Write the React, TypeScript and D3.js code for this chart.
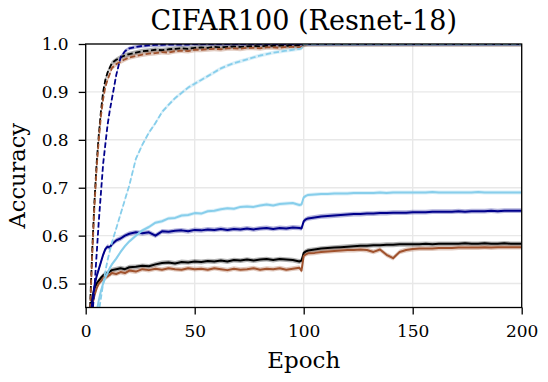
import React, { useEffect, useRef } from "react";
import * as d3 from "d3";

const epochs = [
  1, 2, 3, 4, 5, 6, 7, 8, 9, 10, 11, 12, 14, 16, 18, 20,
  23, 26, 29, 32, 35, 38, 41, 44, 47, 50, 53, 56, 59, 62, 65, 68, 71, 74, 77, 80, 83, 86, 89, 92, 95, 98,
  99, 100, 101,
  102, 105, 108, 111, 114, 117, 120, 123, 126, 129, 132, 135, 138, 141, 144, 147, 150, 153, 156, 159,
  162, 165, 168, 171, 174, 177, 180, 183, 186, 189, 192, 195, 198, 200,
];

const xTicks = [0, 50, 100, 150, 200];
const yTicks = [0.5, 0.6, 0.7, 0.8, 0.9, 1.0];

// Train accuracy (dashed)
const blackTrain = [
  0.35, 0.45, 0.57, 0.67, 0.75, 0.81, 0.86, 0.9, 0.925, 0.94, 0.95, 0.96, 0.967, 0.972, 0.976, 0.979,
  0.982, 0.985, 0.986, 0.988, 0.987, 0.989, 0.99, 0.991, 0.99, 0.992, 0.993, 0.992, 0.994, 0.993, 0.994, 0.995, 0.994, 0.995, 0.996, 0.995, 0.996, 0.996, 0.997, 0.996, 0.997, 0.997,
  0.997, 0.999, 1.0,
  1, 1, 1, 1, 1, 1, 1, 1, 1, 1, 1, 1, 1, 1, 1, 1, 1, 1, 1, 1, 1, 1, 1, 1, 1, 1, 1, 1, 1, 1, 1, 1, 1, 1,
];
const brownTrain = [
  0.33, 0.44, 0.56, 0.66, 0.74, 0.8, 0.85, 0.885, 0.91, 0.925, 0.937, 0.95, 0.958, 0.963, 0.968, 0.972,
  0.975, 0.978, 0.98, 0.981, 0.983, 0.982, 0.985, 0.986, 0.985, 0.988, 0.988, 0.989, 0.99, 0.989, 0.991, 0.991, 0.99, 0.992, 0.992, 0.991, 0.993, 0.993, 0.992, 0.994, 0.994, 0.993,
  0.994, 0.998, 0.999,
  1, 1, 1, 1, 1, 1, 1, 1, 1, 1, 1, 1, 1, 1, 1, 1, 1, 1, 1, 1, 1, 1, 1, 1, 1, 1, 1, 1, 1, 1, 1, 1, 1, 1,
];
const navyTrain = [
  0.2, 0.33, 0.43, 0.49, 0.56, 0.63, 0.69, 0.75, 0.79, 0.83, 0.86, 0.885, 0.935, 0.972, 0.985, 0.991,
  0.994, 0.996, 0.997, 0.998, 0.998, 0.999, 0.999, 0.999, 0.999, 1, 1, 1, 1, 1, 1, 1, 1, 1, 1, 1, 1, 1, 1, 1, 1, 1,
  1, 1, 1,
  1, 1, 1, 1, 1, 1, 1, 1, 1, 1, 1, 1, 1, 1, 1, 1, 1, 1, 1, 1, 1, 1, 1, 1, 1, 1, 1, 1, 1, 1, 1, 1, 1, 1,
];
const lightTrain = [
  0.1, 0.2, 0.28, 0.35, 0.4, 0.44, 0.47, 0.5, 0.525, 0.548, 0.567, 0.585, 0.615, 0.645, 0.675, 0.705,
  0.76, 0.79, 0.815, 0.835, 0.858, 0.873, 0.887, 0.898, 0.909, 0.917, 0.925, 0.933, 0.941, 0.949, 0.955, 0.96, 0.964, 0.968, 0.972, 0.976, 0.979, 0.982, 0.984, 0.986, 0.988, 0.99,
  0.991, 0.999, 1.0,
  1, 1, 1, 1, 1, 1, 1, 1, 1, 1, 1, 1, 1, 1, 1, 1, 1, 1, 1, 1, 1, 1, 1, 1, 1, 1, 1, 1, 1, 1, 1, 1, 1, 1,
];

// Test accuracy (solid)
const blackTest = [
  0.3, 0.44, 0.47, 0.49, 0.5, 0.506, 0.512, 0.517, 0.52, 0.522, 0.525, 0.528, 0.53, 0.532, 0.53, 0.534,
  0.535, 0.537, 0.536, 0.54, 0.543, 0.544, 0.542, 0.545, 0.544, 0.546, 0.545, 0.547, 0.546, 0.548, 0.546, 0.549, 0.548, 0.55, 0.548, 0.55, 0.551, 0.549, 0.551, 0.55, 0.549, 0.546,
  0.548, 0.564, 0.567,
  0.569, 0.571, 0.573, 0.574, 0.575, 0.576, 0.577, 0.578, 0.579, 0.579, 0.58, 0.58, 0.581, 0.581, 0.582, 0.582, 0.582,
  0.582, 0.583, 0.582, 0.583, 0.583, 0.583, 0.583, 0.584, 0.583, 0.583, 0.584, 0.583, 0.583, 0.584, 0.583, 0.583, 0.583,
];
const brownTest = [
  0.28, 0.42, 0.455, 0.475, 0.49, 0.5, 0.505, 0.51, 0.512, 0.515, 0.518, 0.522, 0.52, 0.524, 0.522, 0.527,
  0.525, 0.53, 0.528, 0.531, 0.529, 0.532, 0.53, 0.529, 0.532, 0.53, 0.531, 0.529, 0.532, 0.53, 0.528, 0.531, 0.529, 0.53, 0.532, 0.529, 0.531, 0.53, 0.532, 0.529, 0.531, 0.533,
  0.527, 0.558, 0.561,
  0.563, 0.564, 0.566, 0.567, 0.568, 0.569, 0.57, 0.57, 0.571, 0.57, 0.566, 0.571, 0.56, 0.553, 0.566, 0.57, 0.572,
  0.573, 0.573, 0.573, 0.574, 0.574, 0.574, 0.575, 0.575, 0.575, 0.575, 0.576, 0.575, 0.576, 0.576, 0.576, 0.576, 0.576,
];
const navyTest = [
  0.3, 0.42, 0.46, 0.495, 0.515, 0.53, 0.545, 0.56, 0.572, 0.577, 0.575, 0.582, 0.59, 0.594, 0.6, 0.604,
  0.607, 0.605, 0.607, 0.6, 0.609, 0.608, 0.61, 0.611, 0.609, 0.612, 0.611, 0.613, 0.612, 0.614, 0.612, 0.614, 0.613, 0.615, 0.613, 0.615, 0.616, 0.614, 0.616, 0.615, 0.617, 0.616,
  0.615, 0.63, 0.634,
  0.636, 0.638, 0.64, 0.641, 0.642, 0.643, 0.644, 0.645, 0.645, 0.646, 0.646, 0.647, 0.647, 0.648, 0.648, 0.648, 0.649,
  0.649, 0.649, 0.65, 0.65, 0.65, 0.65, 0.651, 0.65, 0.651, 0.651, 0.651, 0.652, 0.651, 0.652, 0.652, 0.652, 0.652,
];
const lightTest = [
  0.15, 0.25, 0.33, 0.4, 0.44, 0.465, 0.485, 0.5, 0.512, 0.522, 0.532, 0.54, 0.552, 0.566, 0.578, 0.588,
  0.6, 0.611, 0.618, 0.627, 0.63, 0.636, 0.637, 0.642, 0.643, 0.647, 0.646, 0.651, 0.652, 0.655, 0.657, 0.656, 0.66, 0.661, 0.66, 0.663, 0.665, 0.663, 0.666, 0.667, 0.668, 0.664,
  0.665, 0.68, 0.683,
  0.685, 0.686, 0.687, 0.687, 0.688, 0.688, 0.688, 0.689, 0.689, 0.689, 0.689, 0.69, 0.689, 0.69, 0.69, 0.69, 0.69,
  0.69, 0.69, 0.691, 0.69, 0.69, 0.69, 0.69, 0.69, 0.69, 0.691, 0.69, 0.69, 0.69, 0.69, 0.69, 0.69, 0.69,
];

// Half-width of the shaded std band, per series
const trainStd = [0.005, 0.005, 0.004, 0.004];
const testStd = [0.005, 0.005, 0.005, 0.004];

const colors = ["#000000", "#a0522d", "#00008b", "#87ceeb"];
const trainSeries = [blackTrain, brownTrain, navyTrain, lightTrain];
const testSeries = [blackTest, brownTest, navyTest, lightTest];

const FONT = "DejaVu Serif";
const PL = 85.7, PR = 521.7, PT = 44, PB = 307.5;

export default function App() {
  const gx = useRef<SVGGElement>(null);
  const gy = useRef<SVGGElement>(null);

  const x = d3.scaleLinear().domain([0, 200]).range([PL, PR]);
  const y = d3.scaleLinear().domain([0.45, 1.0]).range([PB, PT]);

  useEffect(() => {
    const ax = d3.axisBottom(x).tickValues(xTicks).tickSize(7).tickPadding(10).tickFormat(d3.format("d"));
    const sx = d3.select(gx.current!);
    sx.call(ax as any);
    sx.select(".domain").remove();
    sx.selectAll("line").attr("stroke", "#000").attr("stroke-width", 1.3);
    sx.selectAll("text").attr("font-family", FONT).attr("font-size", 17).attr("fill", "#000");

    const ay = d3.axisLeft(y).tickValues(yTicks).tickSize(7).tickPadding(10).tickFormat(d3.format(".1f"));
    const sy = d3.select(gy.current!);
    sy.call(ay as any);
    sy.select(".domain").remove();
    sy.selectAll("line").attr("stroke", "#000").attr("stroke-width", 1.3);
    sy.selectAll("text").attr("font-family", FONT).attr("font-size", 17).attr("fill", "#000");
  }, []);

  const line = (vals: number[]) =>
    d3.line<number>().x((_, i) => x(epochs[i])).y((v) => y(v))(vals) || "";
  const band = (vals: number[], s: number) =>
    d3
      .area<number>()
      .x((_, i) => x(epochs[i]))
      .y0((v) => y(v - s))
      .y1((v) => y(v + s))(vals) || "";

  return (
    <svg width={548} height={382} style={{ position: "absolute", left: 0, top: 0, background: "#fff" }}>
      <defs>
        <clipPath id="plot">
          <rect x={PL} y={PT} width={PR - PL} height={PB - PT} />
        </clipPath>
      </defs>
      <rect x={0} y={0} width={548} height={382} fill="#fff" />
      {/* grid */}
      <g stroke="#e8e8e8" strokeWidth={1.4}>
        {xTicks.map((t) => (
          <line key={"gx" + t} x1={x(t)} x2={x(t)} y1={PT} y2={PB} />
        ))}
        {yTicks.map((t) => (
          <line key={"gy" + t} x1={PL} x2={PR} y1={y(t)} y2={y(t)} />
        ))}
      </g>
      <g clipPath="url(#plot)">
        {trainSeries.map((s, i) => (
          <path key={"tb" + i} d={band(s, trainStd[i])} fill={colors[i]} opacity={0.3} />
        ))}
        {testSeries.map((s, i) => (
          <path key={"sb" + i} d={band(s, testStd[i])} fill={colors[i]} opacity={0.3} />
        ))}
        {colors.map((c, i) => (
          <g key={"ln" + i}>
            <path d={line(testSeries[i])} fill="none" stroke={c} strokeWidth={2} strokeLinejoin="round" />
            <path
              d={line(trainSeries[i])}
              fill="none"
              stroke={c}
              strokeWidth={1.8}
              strokeDasharray="5.5,2.5"
              strokeLinejoin="round"
            />
          </g>
        ))}
      </g>
      <rect x={PL} y={PT} width={PR - PL} height={PB - PT} fill="none" stroke="#000" strokeWidth={1.3} />
      <g ref={gx} transform={`translate(0,${PB})`} />
      <g ref={gy} transform={`translate(${PL},0)`} />
      <text x={(PL + PR) / 2} y={30} textAnchor="middle" fontFamily={FONT} fontSize={27} fill="#000">
        CIFAR100 (Resnet-18)
      </text>
      <text x={(PL + PR) / 2} y={368} textAnchor="middle" fontFamily={FONT} fontSize={23} fill="#000">
        Epoch
      </text>
      <text
        transform={`translate(25,${(PT + PB) / 2}) rotate(-90)`}
        textAnchor="middle"
        fontFamily={FONT}
        fontSize={22.5}
        fill="#000"
      >
        Accuracy
      </text>
    </svg>
  );
}
